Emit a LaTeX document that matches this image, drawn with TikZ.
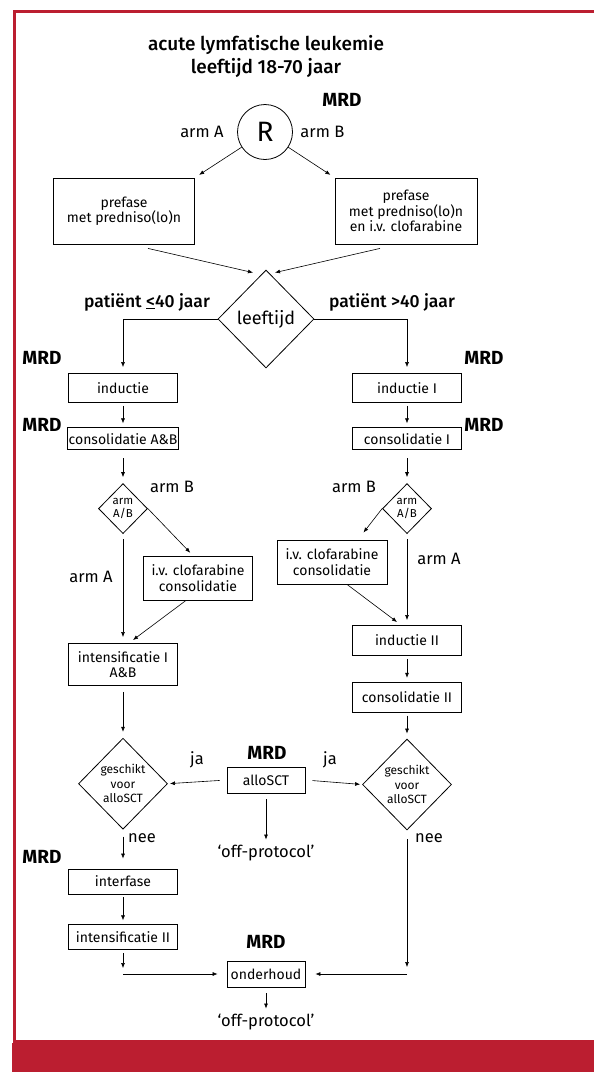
\documentclass[tikz,border=0pt]{standalone}
\usepackage{fontspec}
\setmainfont{Fira Sans}
\newfontfamily\mediumfont{Fira Sans Medium}
\usetikzlibrary{positioning,arrows.meta,shapes.geometric}
\definecolor{FrameRed}{RGB}{187,30,48}
\tikzset{
  flow/.style={-{Latex[length=5pt,width=4pt]},line width=0.6pt,shorten >=4pt,shorten <=3pt},
  box/.style={draw,line width=0.8pt,minimum width=109pt,align=center,inner sep=1pt,
    font=\fontsize{14}{15.5}\selectfont},
  widebox/.style={box,minimum width=141pt,minimum height=66pt},
  smallbox/.style={box,minimum width=78pt,minimum height=26pt},
  decision/.style={draw,diamond,line width=0.8pt,inner sep=0pt,align=center},
  mrdtext/.style={font=\bfseries\fontsize{19}{21}\selectfont},
  agetext/.style={font=\mediumfont\fontsize{17.5}{20}\selectfont},
  armtext/.style={font=\fontsize{16.5}{18}\selectfont}
}

\begin{document}
\begin{tikzpicture}[x=1pt,y=1pt,node distance=25pt]
  \useasboundingbox (0,0) rectangle (594,-1072);
  % frame and band
  \fill[FrameRed] (12,-1043) rectangle (594,-1072);
  \draw[FrameRed,line width=3pt] (594,-11.5) -| (14.5,-1041.5) -- (594,-1041.5);

  % randomisation
  \node[font=\mediumfont\fontsize{19}{23}\selectfont,align=center] (title) at (266,-56)
    {acute lymfatische leukemie\\leeftijd 18-70 jaar};
  \node[draw,circle,line width=0.8pt,minimum size=55pt,inner sep=0pt,
    font=\fontsize{28}{28}\selectfont] (rand) at (265,-132) {R};
  \node[mrdtext] (mrdR) at (342,-100) {MRD};
  \node[armtext,left=10pt of rand] (armA) {arm A};
  \node[armtext,right=4pt of rand] (armB) {arm B};
  \node[widebox] (preA) at (124,-211) {prefase\\met predniso(lo)n};
  \node[widebox,minimum width=142pt] (preB) at (406,-211) {prefase\\met predniso(lo)n\\en i.v. clofarabine};
  \draw[flow,shorten <=0pt,shorten >=5pt] (rand) -- (preA.north east);
  \draw[flow,shorten <=0pt,shorten >=5pt] (rand) -- (preB.north west);

  % age split
  \node[decision,minimum width=96pt,minimum height=98pt,
    font=\fontsize{18}{20}\selectfont] (leeftijd) at (266,-319) {leeftijd};
  \draw[flow,shorten <=0pt,shorten >=0pt] ([xshift=24pt,yshift=-4pt]preA.south)
    -- ([xshift=-13pt,yshift=-3pt]leeftijd.north);
  \draw[flow,shorten <=0pt,shorten >=0pt] ([xshift=-26pt,yshift=-4pt]preB.south)
    -- ([xshift=9pt,yshift=-3pt]leeftijd.north);
  \node[agetext] (young) at (147,-302) {patiënt \underline{<}40 jaar};
  \node[agetext] (old) at (392,-302) {patiënt >40 jaar};

  % left column
  \node[box,minimum height=29pt] (inductie) at (123,-388) {inductie};
  \node[box,minimum height=22pt,below=24.5pt of inductie] (consAB) {consolidatie A\&B};
  \node[decision,minimum width=49pt,minimum height=50pt,below=33pt of consAB,
    font=\fontsize{11.5}{12.5}\selectfont] (armABL) {arm\\A/B};
  \node[box,minimum height=44pt] (clofL) at (198,-578) {i.v. clofarabine\\consolidatie};
  \node[box,minimum height=42pt,below=109pt of armABL] (intensI) {intensificatie I\\A\&B};
  \node[decision,minimum width=89pt,minimum height=91pt,below=52pt of intensI,
    font=\fontsize{12}{14.5}\selectfont] (geschiktL) {geschikt\\voor\\alloSCT};
  \node[box,minimum height=25pt,below=39pt of geschiktL] (interfase) {interfase};
  \node[box,minimum height=25pt,below=30pt of interfase] (intensII) {intensificatie II};

  % right column
  \node[box,minimum height=29pt] (inductieI) at (407,-388) {inductie I};
  \node[box,minimum height=22pt,below=24.5pt of inductieI] (consI) {consolidatie I};
  \node[decision,minimum width=49pt,minimum height=50pt,below=33pt of consI,
    font=\fontsize{11.5}{12.5}\selectfont] (armABR) {arm\\A/B};
  \node[box,minimum width=110pt,minimum height=44pt] (clofR) at (332,-562) {i.v. clofarabine\\consolidatie};
  \node[box,minimum height=30pt,below=91pt of armABR] (inductieII) {inductie II};
  \node[box,minimum height=30pt,below=26pt of inductieII] (consII) {consolidatie II};
  \node[decision,minimum width=89pt,minimum height=91pt,below=26pt of consII,
    font=\fontsize{12}{14.5}\selectfont] (geschiktR) {geschikt\\voor\\alloSCT};

  % middle
  \node[smallbox] (alloSCT) at (266,-780) {alloSCT};
  \node[armtext] (offA) at (266,-853) {`off-protocol'};
  \node[smallbox] (onderhoud) at (266,-974) {onderhoud};
  \node[armtext] (offB) at (266,-1022) {`off-protocol'};

  % MRD marks
  \node[mrdtext] (mrdL1) at (42,-358) {MRD};
  \node[mrdtext] (mrdL2) at (42,-425) {MRD};
  \node[mrdtext] (mrdL3) at (42,-857) {MRD};
  \node[mrdtext] (mrdR1) at (484,-358) {MRD};
  \node[mrdtext] (mrdR2) at (484,-425) {MRD};
  \node[mrdtext] (mrdC1) at (267,-753) {MRD};
  \node[mrdtext] (mrdC2) at (266,-942) {MRD};

  % branch labels
  \node[armtext] (armBL) at (172,-487) {arm B};
  \node[armtext] (armBR) at (354,-487) {arm B};
  \node[armtext] (armAL) at (91,-577) {arm A};
  \node[armtext] (armAR) at (439,-559) {arm A};
  \node[armtext] (jaL) at (197,-760) {ja};
  \node[armtext] (jaR) at (330,-760) {ja};
  \node[armtext] (neeL) at (142,-838) {nee};
  \node[armtext] (neeR) at (429,-838) {nee};

  % connectors
  \draw[flow,shorten <=0pt,shorten >=6pt] (leeftijd.west) -| (inductie.north);
  \draw[flow,shorten <=0pt,shorten >=6pt] (leeftijd.east) -| (inductieI.north);
  \draw[flow] (inductie) -- (consAB);
  \draw[flow] (inductieI) -- (consI);
  \draw[flow,shorten <=8pt,shorten >=6pt] (consAB) -- (armABL);
  \draw[flow,shorten <=8pt,shorten >=6pt] (consI) -- (armABR);
  \draw[flow,shorten <=0pt] (armABL.east) -- ([xshift=-5pt]clofL.north);
  \draw[flow,shorten <=0pt,shorten >=9pt] (armABR.west) -- ([xshift=26pt]clofR.north);
  \draw[flow,shorten <=5pt,shorten >=6pt] (armABL) -- (intensI);
  \draw[flow,shorten <=0pt,shorten >=5pt] ([xshift=-12pt]clofL.south) -- ([xshift=6pt]intensI.north);
  \draw[flow,shorten <=5pt,shorten >=5pt] (armABR) -- (inductieII);
  \draw[flow,shorten <=0pt,shorten >=5pt] ([xshift=15pt]clofR.south) -- ([xshift=-6pt]inductieII.north);
  \draw[flow] (inductieII) -- (consII);
  \draw[flow,shorten >=5pt] (consII) -- (geschiktR);
  \draw[flow,shorten <=6pt,shorten >=6pt] (intensI) -- (geschiktL);
  \draw[flow,shorten <=7pt,shorten >=2pt] (alloSCT.west) -- (geschiktL.east);
  \draw[flow,shorten <=7pt,shorten >=2pt] (alloSCT.east) -- (geschiktR.west);
  \draw[flow,shorten <=6pt,shorten >=2pt] (alloSCT) -- (offA);
  \draw[flow,shorten <=7pt,shorten >=10pt] (geschiktL) -- (interfase);
  \draw[flow] (interfase) -- (intensII);
  \coordinate (joinL) at (intensII.south |- onderhoud.west);
  \coordinate (joinR) at (geschiktR.south |- onderhoud.east);
  \draw[flow,shorten >=6pt] (intensII) -- (joinL);
  \draw[flow,shorten <=0pt,shorten >=9pt] (joinL) -- (onderhoud.west);
  \draw[flow,shorten <=9pt,shorten >=7pt] (geschiktR.south) -- (joinR);
  \draw[flow,shorten <=0pt,shorten >=10pt] (joinR) -- (onderhoud.east);
  \draw[flow,shorten <=6pt,shorten >=2pt] (onderhoud) -- (offB);
\end{tikzpicture}
\end{document}
